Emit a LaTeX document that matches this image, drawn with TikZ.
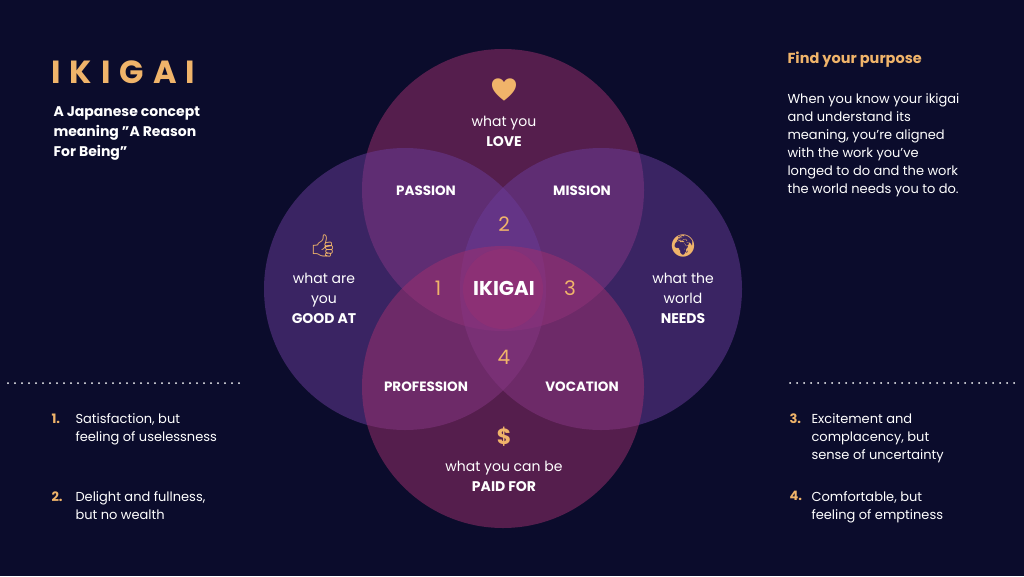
\documentclass[tikz,border=0pt]{standalone}
\usepackage{fontspec}
\setmainfont{Poppins}
\newfontfamily\emo{Noto Emoji}
\definecolor{bgnavy}{HTML}{0B0C2C}
\definecolor{gold}{HTML}{F0B46A}
\definecolor{rose}{HTML}{A0306E}
\definecolor{violet}{HTML}{6A3C9A}
\tikzset{
  ring/.style={draw=none,fill opacity=0.5},
  caption/.style={text=white,font=\fontsize{14}{20}\selectfont,align=center},
  zone/.style={text=white,font=\fontsize{13.5}{15}\selectfont\bfseries},
  num/.style={text=gold,font=\fontsize{20}{20}\selectfont},
  note/.style={text=white,font=\fontsize{13}{18}\selectfont,align=left,anchor=north west},
  icon/.style={text=gold,font=\fontsize{22}{22}\selectfont}
}
\begin{document}
\begin{tikzpicture}[x=1pt,y=-1pt]
  \fill[bgnavy] (0,0) rectangle (1024,576);
  \useasboundingbox (0,0) rectangle (1024,576);
  % circles
  \fill[ring,fill=rose] (503,190) circle (141);
  \fill[ring,fill=violet] (405,289) circle (141);
  \fill[ring,fill=violet] (601,289) circle (141);
  \fill[ring,fill=rose] (503,387) circle (141);
  \fill[rose,fill opacity=0.35] (503,289) circle (40);
  % icons
  \node[icon] (heart) at (504,90) {\emo ♥};
  \node[icon] (thumb) at (323,246) {\emo 👍};
  \node[icon] (globe) at (683,246) {\emo 🌍};
  \node[icon] (dollar) at (504,437) {\bfseries \$};
  % captions
  \node[caption] (love) at (504,131) {what you\\\textbf{LOVE}};
  \node[caption] (good) at (324,298) {what are\\you\\\textbf{GOOD AT}};
  \node[caption] (needs) at (683,298) {what the\\world\\\textbf{NEEDS}};
  \node[caption] (paid) at (504,476) {what you can be\\\textbf{PAID FOR}};
  \node[zone] (passion) at (426,191) {PASSION};
  \node[zone] (mission) at (582,191) {MISSION};
  \node[zone] (profession) at (426,387) {PROFESSION};
  \node[zone] (vocation) at (582,387) {VOCATION};
  \node[text=white,font=\fontsize{20}{20}\selectfont\bfseries] (ikigai) at (504,288) {IKIGAI};
  \node[num] (n1) at (438,288) {1};
  \node[num] (n2) at (504,224) {2};
  \node[num] (n3) at (570,288) {3};
  \node[num] (n4) at (504,357) {4};
  % left panel
  \node[anchor=west,text=gold,font=\fontsize{32}{32}\selectfont\bfseries] (title) at (48,72) {I\hspace{9pt}K\hspace{9pt}I\hspace{9pt}G\hspace{9pt}A\hspace{9pt}I};
  \node[note,font=\fontsize{14}{20}\selectfont\bfseries] (sub) at (50,103) {A Japanese concept\\meaning "A Reason\\For Being"};
  \draw[white,line width=2pt,dash pattern=on 0pt off 7pt,line cap=round] (8,383) -- (240,383);
  \node[note,text=gold,font=\fontsize{13}{18}\selectfont\bfseries] (k1) at (48,410) {1.};
  \node[note] (t1) at (72,410) {Satisfaction, but\\feeling of uselessness};
  \node[note,text=gold,font=\fontsize{13}{18}\selectfont\bfseries] (k2) at (48,488) {2.};
  \node[note] (t2) at (72,488) {Delight and fullness,\\but no wealth};
  % right panel
  \node[anchor=west,text=gold,font=\fontsize{14.5}{16}\selectfont\bfseries] (find) at (784,60) {Find your purpose};
  \node[note] (body) at (784,90) {When you know your ikigai\\and understand its\\meaning, you're aligned\\with the work you've\\longed to do and the work\\the world needs you to do.};
  \draw[white,line width=2pt,dash pattern=on 0pt off 7pt,line cap=round] (790,383) -- (1016,383);
  \node[note,text=gold,font=\fontsize{13}{18}\selectfont\bfseries] (k3) at (786,410) {3.};
  \node[note] (t3) at (808,410) {Excitement and\\complacency, but\\sense of uncertainty};
  \node[note,text=gold,font=\fontsize{13}{18}\selectfont\bfseries] (k4) at (786,488) {4.};
  \node[note] (t4) at (808,488) {Comfortable, but\\feeling of emptiness};
\end{tikzpicture}
\end{document}
